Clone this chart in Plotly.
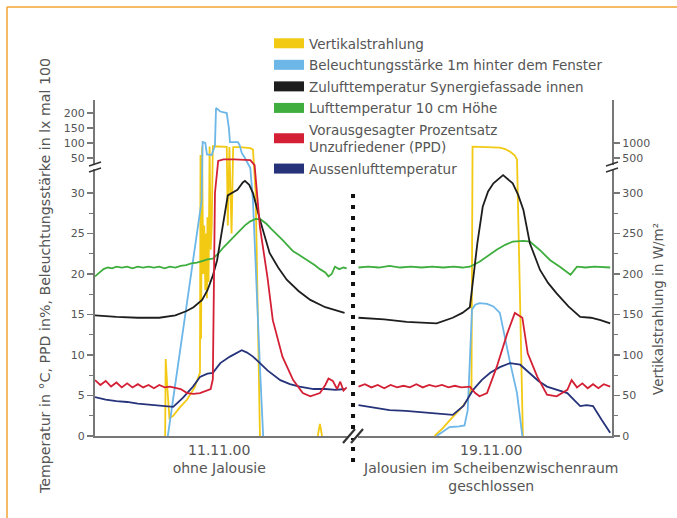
import plotly.graph_objects as go

# ---------------- data (x = hour; day 1 = 11.11.00 at 0-24 h, day 2 = 19.11.00 drawn at 24-48 h)
# Vertikalstrahlung in W/m2 (right axis); None = no reading drawn
t_strahl_1 = [6.55, 6.6, 6.75, 6.95, 7.3, 7.9, 8.6, 9.3, 9.8, 9.85, 9.9, 10.0, 10.1, 10.2, 10.3, 10.35, 10.45,
              10.5, 10.6, 10.7, 10.8, 10.9, 11.0, 11.5, 12.0, 12.3, 12.4, 12.55, 12.75, 12.9, 13.5, 14.0, 14.5,
              14.75, 15.0, 15.4, 18.0, 20.8, 21.0, 21.2]
strahl_1 = [0, 95, 60, 22, 25, 35, 45, 60, 78, 600, 120, 880, 200, 260, 180, 250, 170,
            270, 190, 880, 230, 260, 890, 880, 875, 870, 260, 870, 250, 865, 860, 850, 830,
            780, 300, 0, None, 0, 15, 0]
t_strahl_2 = [31.7, 32.5, 33.3, 34.1, 34.8, 35.15, 35.25, 36.0, 37.0, 37.8, 38.3, 38.8, 39.2, 39.4, 39.6, 39.95]
strahl_2 = [0, 10, 22, 33, 45, 60, 880, 870, 860, 845, 800, 700, 580, 480, 220, 0]

# Beleuchtungsstaerke 1 m hinter dem Fenster in lx x 100
t_licht_1 = [6.8, 9.95, 10.05, 10.3, 10.45, 10.9, 11.2, 11.3, 11.7, 12.3, 12.5, 12.6, 13.35, 13.5, 13.7,
             14.0, 14.5, 14.75, 15.4, 15.7]
licht_1 = [0, 29.0, 103, 100, 62, 60, 93, 217, 205, 200, 150, 103, 103, 93, 67,
           50, 36, 29, 8.5, 0]
t_licht_2 = [31.9, 32.5, 33.1, 34.0, 34.5, 34.8, 35.0, 35.2, 35.5, 35.9, 36.6, 37.2, 37.8, 38.2, 38.7, 39.4, 39.9]
licht_2 = [0, 0.6, 1.1, 1.2, 1.3, 3.2, 10, 15.6, 16.2, 16.4, 16.3, 16.0, 15.2, 12.5, 9.4, 5.3, 0]

# Zulufttemperatur Synergiefassade innen in degC
t_zuluft_1 = [0, 2, 4, 6, 7.5, 8.5, 9.2, 10, 10.5, 11, 11.4, 12, 12.4, 12.9, 13.3, 13.8, 14.0, 14.4, 14.75,
              15.4, 16.3, 17.1, 17.9, 19, 20.1, 21.5, 23.3]
zuluft_1 = [14.9, 14.7, 14.6, 14.6, 14.9, 15.4, 15.9, 16.8, 18.0, 19.8, 21.7, 26.7, 29.7, 30.1, 30.4, 31.3,
            31.5, 31.0, 30.0, 26.7, 22.6, 20.8, 19.3, 17.9, 16.8, 15.9, 15.2]
t_zuluft_2 = [24.6, 27, 29.1, 31.9, 33.4, 34.3, 35.0, 35.3, 35.7, 36.2, 36.7, 37.2, 38.1, 39.0, 39.5, 40.0,
              40.6, 41.55, 42.3, 43.1, 44.2, 45.3, 46.3, 47.2, 48.1]
zuluft_2 = [14.6, 14.4, 14.1, 13.9, 14.6, 15.2, 15.9, 19.6, 23.8, 28.3, 30.2, 31.2, 32.2, 31.2, 29.8, 27.9,
            23.8, 20.5, 18.9, 17.6, 16.0, 14.7, 14.6, 14.3, 13.9]

# Lufttemperatur 10 cm Hoehe in degC
t_luft_1 = [0, 0.4, 0.8, 1.2, 1.6, 2.0, 2.5, 3.0, 3.5, 4.0, 4.5, 5.0, 5.5, 6.0, 6.5, 7.0, 7.5, 8.0, 8.5,
            9.0, 9.5, 10.0, 10.5, 11.0, 11.5, 12.0, 12.5, 13.0, 13.5, 14.0, 14.5, 15.0, 15.5, 16.0, 16.5,
            17.0, 17.5, 18.0, 18.5, 19.0, 19.5, 20.0, 20.5, 21.0, 21.5, 21.8, 22.1, 22.4, 22.8, 23.2, 23.5]
luft_1 = [19.7, 20.2, 20.6, 20.8, 20.7, 20.9, 20.8, 20.9, 20.7, 20.9, 20.8, 20.9, 20.8, 20.9, 20.7, 20.9,
          20.8, 21.0, 21.1, 21.3, 21.4, 21.6, 21.8, 21.9, 22.5, 23.3, 24.0, 24.7, 25.4, 26.0, 26.5, 26.8,
          26.7, 26.2, 25.5, 24.9, 24.2, 23.5, 22.8, 22.4, 22.0, 21.6, 21.1, 20.6, 20.2, 19.7, 20.0, 20.9,
          20.6, 20.8, 20.7]
t_luft_2 = [24.6, 25.5, 26.5, 27.5, 28.5, 29.5, 30.5, 31.5, 32.5, 33.5, 34.3, 35.0, 35.9, 36.7, 37.5,
            38.3, 39.0, 40.0, 40.6, 41.5, 42.5, 43.4, 44.4, 45.0, 45.8, 46.6, 47.4, 48.1]
luft_2 = [20.8, 20.9, 20.8, 21.0, 20.8, 20.9, 20.8, 20.9, 20.8, 20.9, 20.8, 20.9, 21.5, 22.3, 23.0,
          23.6, 24.0, 24.1, 24.0, 23.0, 21.7, 20.9, 19.9, 20.9, 20.8, 20.9, 20.8, 20.8]

# Vorausgesagter Prozentsatz Unzufriedener (PPD) in %
t_ppd_1 = [0, 0.5, 1, 1.5, 2, 2.5, 3, 3.5, 4, 4.5, 5, 5.5, 6, 6.5, 7, 8, 8.6, 9.2, 9.8, 10.4, 10.8, 11.0,
           11.2, 11.5, 12, 13, 14, 14.5, 14.9, 15.4, 16.1, 16.6, 17.5, 18.5, 19.4, 20.1, 21.0, 21.5, 21.8,
           22.2, 22.6, 22.9, 23.2, 23.5]
ppd_1 = [6.9, 6.3, 6.8, 6.1, 6.6, 6.0, 6.5, 6.0, 6.4, 6.0, 6.3, 5.9, 6.3, 6.0, 6.1, 5.8, 5.3, 5.2, 5.3, 5.6,
         5.8, 7.0, 30, 46, 48, 48, 48, 47, 40, 25.8, 19.6, 14.3, 9.8, 6.9, 5.3, 4.9, 5.3, 6.3, 7.1, 6.8,
         5.8, 6.7, 5.6, 6.0]
t_ppd_2 = [24.6, 25.2, 25.8, 26.4, 27, 27.6, 28.2, 28.8, 29.4, 30, 30.6, 31.2, 31.8, 32.4, 33, 33.6, 34.2,
           35.0, 35.5, 35.9, 36.6, 37.5, 38.5, 39.2, 39.9, 40.4, 41.3, 42.2, 43.1, 44.1, 44.5, 45.0, 45.5,
           46.0, 46.5, 47.0, 47.5, 48.1]
ppd_2 = [6.1, 6.4, 6.0, 6.3, 5.9, 6.3, 6.0, 6.2, 6.0, 6.4, 6.0, 6.3, 6.1, 6.3, 6.0, 6.2, 6.0,
         6.1, 5.3, 4.9, 5.3, 8.5, 12.7, 15.2, 14.6, 10.2, 7.3, 5.1, 4.9, 5.7, 6.9, 6.0, 6.5,
         5.9, 6.4, 5.9, 6.4, 6.1]

# Aussenlufttemperatur in degC
t_aussen_1 = [0, 1, 2, 3, 4, 5, 6.1, 7.3, 8.2, 9.15, 9.8, 10.5, 11.0, 11.7, 12.6, 13.2, 13.7, 14.2, 14.75,
              15.4, 16.1, 17.3, 18.2, 19.1, 20.4, 21.5, 22.5, 23.3]
aussen_1 = [4.8, 4.5, 4.3, 4.2, 4.0, 3.9, 3.8, 3.6, 4.7, 6.1, 7.3, 7.7, 7.8, 9.0, 9.8, 10.2, 10.6, 10.3,
            9.8, 9.0, 8.1, 6.9, 6.4, 6.1, 5.8, 5.8, 5.7, 5.8]
t_aussen_2 = [24.6, 26, 27.5, 29, 31, 33.4, 34.4, 35.3, 36.1, 36.9, 37.8, 38.75, 39.7, 40.6, 41.4, 42.2,
              43.1, 44.1, 44.7, 45.3, 45.9, 46.5, 47.3, 48.1]
aussen_2 = [3.8, 3.5, 3.2, 3.1, 2.9, 2.6, 3.7, 5.7, 6.9, 7.8, 8.5, 9.0, 8.8, 7.7, 6.8, 6.1,
            5.7, 5.3, 4.5, 3.7, 3.8, 3.7, 2.0, 0.4]

# axis labels
left_ticks_low = [0, 5, 10, 15, 20, 25, 30]
left_ticks_high = [50, 100, 150, 200]
right_ticks_low = [0, 50, 100, 150, 200, 250, 300]
right_ticks_high = [500, 1000]
day_tick_pos = [11.6, 37.0]
day_labels = ["11.11.00<br>ohne Jalousie",
              "19.11.00<br>Jalousien im Scheibenzwischenraum<br>geschlossen"]

names = ["Vertikalstrahlung",
         "Beleuchtungsstärke 1m hinter dem Fenster",
         "Zulufttemperatur Synergiefassade innen",
         "Lufttemperatur 10 cm Höhe",
         "Vorausgesagter Prozentsatz<br>Unzufriedener (PPD)",
         "Aussenlufttemperatur"]
colors = ["#f2c913", "#6cb6e8", "#1e1e1e", "#3fae3f", "#d42035", "#26337a"]

# ---------------- broken-axis scales
BRK = 32.8         # top of the linear lower part (display units)
UP0 = 34.32        # display position of 50 (left) / 500 (right)
UPK_L = 0.037037   # display units per lx*100 above the break
UPK_R = 0.0037037  # display units per W/m2 above the break


def left_scale(v):
    if v is None:
        return None
    if v <= BRK:
        return v
    if v >= 50:
        return UP0 + (v - 50) * UPK_L
    return BRK + (v - BRK) * (UP0 - BRK) / (50 - BRK)


def right_scale(w):
    if w is None:
        return None
    if w <= BRK * 10:
        return w / 10.0
    if w >= 500:
        return UP0 + (w - 500) * UPK_R
    return BRK + (w - BRK * 10) * (UP0 - BRK) / (500 - BRK * 10)


def join(t1, v1, t2, v2, f):
    return t1 + [None] + t2, [f(v) for v in v1 + [None] + v2]


W, H = 677, 518
ML, MR, MT, MB = 95, 65, 100, 82
PW, PH = W - ML - MR, H - MT - MB
YMAX = PH / 8.1
XMAX = 48.27


def px_x(px):
    return (px - ML) / PW


def px_y(py):
    return (H - MB - py) / PH


fig = go.Figure()

series = [
    (t_strahl_1, strahl_1, t_strahl_2, strahl_2, right_scale, "y"),
    (t_licht_1, licht_1, t_licht_2, licht_2, left_scale, "y2"),
    (t_luft_1, luft_1, t_luft_2, luft_2, left_scale, "y2"),
    (t_aussen_1, aussen_1, t_aussen_2, aussen_2, left_scale, "y2"),
    (t_zuluft_1, zuluft_1, t_zuluft_2, zuluft_2, left_scale, "y2"),
    (t_ppd_1, ppd_1, t_ppd_2, ppd_2, left_scale, "y2"),
]
series_idx = [0, 1, 3, 5, 2, 4]
for (t1, v1, t2, v2, f, ax), i in zip(series, series_idx):
    xs, ys = join(t1, v1, t2, v2, f)
    fig.add_trace(go.Scatter(x=xs, y=ys, mode="lines", yaxis=ax, name=names[i],
                             line=dict(color=colors[i], width=1.8), showlegend=False,
                             connectgaps=False, hoverinfo="skip"))

# legend swatches
for i, (n, c) in enumerate(zip(names, colors)):
    fig.add_trace(go.Scatter(x=[None], y=[None], mode="lines", name=n, yaxis="y2",
                             line=dict(color=c, width=10), legendgroup=str(i)))

axis_col = "#777777"
tick_font = dict(family="DejaVu Sans", size=11, color="#555555")

left_vals = [left_scale(v) for v in left_ticks_low + left_ticks_high]
left_text = [str(v) for v in left_ticks_low + left_ticks_high]
right_vals = [right_scale(v) for v in right_ticks_low + right_ticks_high]
right_text = [str(v) for v in right_ticks_low + right_ticks_high]

common_y = dict(range=[0, YMAX], showgrid=False, zeroline=False, showline=True, linecolor=axis_col,
                linewidth=2, ticks="outside", ticklen=6, tickwidth=1.5, tickcolor=axis_col,
                tickmode="array", tickfont=tick_font, fixedrange=True)

fig.update_layout(
    width=W, height=H,
    margin=dict(l=ML, r=MR, t=MT, b=MB),
    paper_bgcolor="white", plot_bgcolor="white",
    xaxis=dict(range=[0, XMAX], showgrid=False, zeroline=False, showline=True, linecolor=axis_col,
               linewidth=2, ticks="", tickmode="array", tickvals=day_tick_pos, ticktext=day_labels,
               tickfont=dict(family="DejaVu Sans", size=14, color="#555555"), fixedrange=True),
    yaxis=dict(side="right", anchor="x", tickvals=right_vals, ticktext=right_text,
               minor=dict(tickvals=[right_scale(w) for w in range(25, 300, 50)], ticks="outside",
                          ticklen=4, tickcolor=axis_col, tickwidth=1.2),
               **common_y),
    yaxis2=dict(side="left", anchor="x", overlaying="y", tickvals=left_vals, ticktext=left_text,
                minor=dict(tickvals=[v + 2.5 for v in range(0, 30, 5)], ticks="outside",
                           ticklen=4, tickcolor=axis_col, tickwidth=1.2),
                **common_y),
    legend=dict(x=px_x(269), y=px_y(28), xanchor="left", yanchor="top",
                font=dict(family="DejaVu Sans", size=13.5, color="#555555"),
                bgcolor="rgba(0,0,0,0)", tracegroupgap=1, traceorder="grouped", itemwidth=30),
    showlegend=True,
)

fig.add_annotation(x=px_x(45), y=px_y(276), xref="paper", yref="paper", showarrow=False,
                   textangle=-90, text="Temperatur in °C, PPD in%, Beleuchtungsstärke in lx mal 100",
                   font=dict(family="DejaVu Sans", size=14.2, color="#555555"),
                   xanchor="center", yanchor="middle")
fig.add_annotation(x=px_x(658), y=px_y(309), xref="paper", yref="paper", showarrow=False,
                   textangle=-90, text="Vertikalstrahlung in W/m²",
                   font=dict(family="DejaVu Sans", size=13.5, color="#555555"),
                   xanchor="center", yanchor="middle")

# orange frame (top and left edge)
orange = "#f2a531"
fig.add_shape(type="line", xref="paper", yref="paper", x0=px_x(7), x1=1.5, y0=px_y(7), y1=px_y(7),
              line=dict(color=orange, width=1.5))
fig.add_shape(type="line", xref="paper", yref="paper", x0=px_x(7), x1=px_x(7), y0=px_y(7), y1=-0.5,
              line=dict(color=orange, width=1.5))

# dotted divider between the two days
T_DIV = 24.09
fig.add_shape(type="line", xref="x", yref="paper", x0=T_DIV, x1=T_DIV, y0=px_y(462), y1=px_y(190),
              line=dict(color="#111111", width=4, dash="4px,7px"))

# axis break marks
brk_col = "#333333"
BRK_MARK = 33.2
for xa in (0, 1):
    fig.add_shape(type="rect", xref="paper", yref="y2", xsizemode="pixel", ysizemode="pixel",
                  xanchor=xa, yanchor=BRK_MARK, x0=-4, x1=4, y0=-2, y1=2,
                  fillcolor="white", line=dict(width=0))
    for dy in (-3, 3):
        fig.add_shape(type="line", xref="paper", yref="y2", xsizemode="pixel", ysizemode="pixel",
                      xanchor=xa, yanchor=BRK_MARK, x0=-6, x1=6, y0=dy - 2, y1=dy + 2,
                      line=dict(color=brk_col, width=1.6))
fig.add_shape(type="rect", xref="x", yref="paper", xsizemode="pixel", ysizemode="pixel",
              xanchor=T_DIV, yanchor=0, x0=-5, x1=5, y0=-2, y1=2, fillcolor="white", line=dict(width=0))
for dx in (-4, 4):
    fig.add_shape(type="line", xref="x", yref="paper", xsizemode="pixel", ysizemode="pixel",
                  xanchor=T_DIV, yanchor=0, x0=dx - 6, x1=dx + 6, y0=-7, y1=7,
                  line=dict(color=brk_col, width=2.2))

fig.write_html("out.html", config={"displayModeBar": False, "staticPlot": True},
               post_script="document.body.style.margin='0px';")
